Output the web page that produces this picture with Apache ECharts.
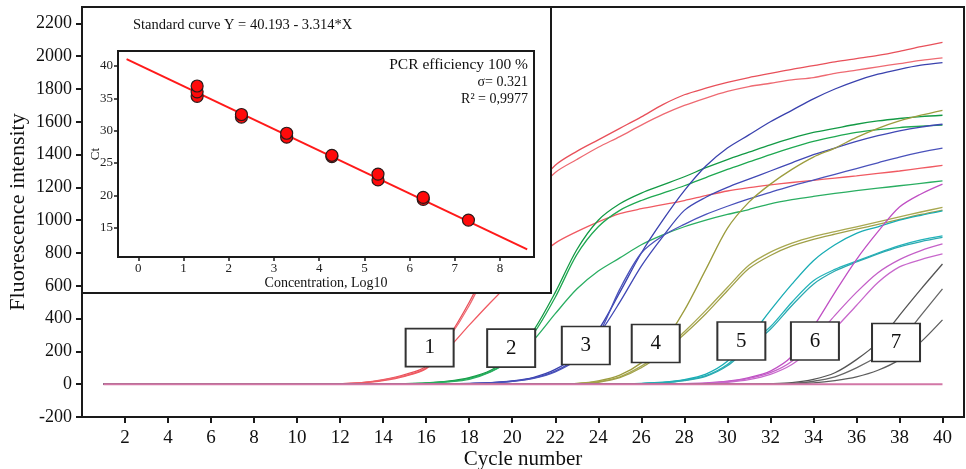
<!DOCTYPE html>
<html><head><meta charset="utf-8">
<script src="https://cdn.jsdelivr.net/npm/echarts@6/dist/echarts.min.js"></script>
<style>html,body{margin:0;padding:0;background:#fff}#c{width:966px;height:469px}</style>
</head><body><div id="c"></div>
<script>
// ---------- data ----------
const cycles = [1,2,3,4,5,6,7,8,9,10,11,12,13,14,15,16,17,18,19,20,21,22,23,24,25,26,27,28,29,30,31,32,33,34,35,36,37,38,39,40];
const xTicks = [2,4,6,8,10,12,14,16,18,20,22,24,26,28,30,32,34,36,38,40];
const yTicks = [-200,0,200,400,600,800,1000,1200,1400,1600,1800,2000,2200];

// group 1 (red)
const red1 = [0,0,0,0,0,0,0,0,0,0,0,3,10,28,58,110,280,500,760,1000,1180,1335,1420,1490,1560,1630,1705,1765,1805,1840,1870,1895,1920,1942,1965,1985,2005,2030,2058,2084];
const red2 = [0,0,0,0,0,0,0,0,0,0,0,3,9,25,52,100,270,480,740,970,1150,1291,1370,1445,1510,1580,1645,1700,1745,1785,1815,1835,1855,1870,1895,1915,1935,1955,1975,1990];
const red3 = [0,0,0,0,0,0,0,0,0,0,0,2,8,22,48,95,215,360,500,630,750,860,930,990,1040,1070,1095,1120,1150,1178,1198,1215,1230,1243,1257,1270,1285,1300,1317,1334];
// group 2 (green)
const green1 = [0,0,0,0,0,0,0,0,0,0,0,0,0,0,3,8,18,40,85,170,330,560,820,1000,1100,1165,1215,1265,1320,1370,1415,1460,1500,1535,1560,1585,1605,1620,1632,1640];
const green2 = [0,0,0,0,0,0,0,0,0,0,0,0,0,0,3,7,16,36,78,160,310,530,790,960,1060,1120,1165,1210,1260,1310,1355,1400,1442,1480,1510,1535,1552,1565,1573,1580];
const green3 = [0,0,0,0,0,0,0,0,0,0,0,0,0,0,2,6,14,30,75,150,270,430,580,690,770,850,910,960,1000,1035,1065,1100,1125,1145,1163,1180,1195,1210,1225,1240];
// group 3 (blue)
const blue1 = [0,0,0,0,0,0,0,0,0,0,0,0,0,0,0,0,2,5,10,20,42,90,180,330,560,800,1000,1180,1330,1440,1520,1600,1670,1740,1800,1850,1890,1920,1945,1961];
const blue2 = [0,0,0,0,0,0,0,0,0,0,0,0,0,0,0,0,2,4,9,18,38,80,160,300,500,720,900,1060,1140,1200,1250,1300,1350,1400,1440,1480,1515,1545,1568,1585];
const blue3 = [0,0,0,0,0,0,0,0,0,0,0,0,0,0,0,0,1,4,8,17,35,75,150,300,580,800,905,975,1035,1085,1130,1170,1210,1245,1280,1315,1350,1385,1415,1439];
// group 4 (olive)
const olive1 = [0,0,0,0,0,0,0,0,0,0,0,0,0,0,0,0,0,0,0,0,0,2,5,20,55,130,250,450,700,950,1110,1220,1310,1385,1440,1505,1560,1605,1640,1670];
const olive2 = [0,0,0,0,0,0,0,0,0,0,0,0,0,0,0,0,0,0,0,0,0,2,4,15,45,110,200,320,450,590,725,805,860,900,930,960,990,1020,1050,1078];
const olive3 = [0,0,0,0,0,0,0,0,0,0,0,0,0,0,0,0,0,0,0,0,0,1,3,12,40,100,190,305,430,570,705,785,843,883,915,945,975,1005,1035,1062];
// group 5 (cyan)
const cyan1 = [0,0,0,0,0,0,0,0,0,0,0,0,0,0,0,0,0,0,0,0,0,0,0,0,2,5,12,28,62,140,280,450,610,753,850,920,960,1000,1030,1057];
const cyan2 = [0,0,0,0,0,0,0,0,0,0,0,0,0,0,0,0,0,0,0,0,0,0,0,0,2,4,10,24,52,120,240,350,500,631,700,750,800,845,880,905];
const cyan3 = [0,0,0,0,0,0,0,0,0,0,0,0,0,0,0,0,0,0,0,0,0,0,0,0,1,4,9,22,48,112,225,335,480,610,690,745,795,838,870,895];
// group 6 (magenta)
const mag1 = [0,0,0,0,0,0,0,0,0,0,0,0,0,0,0,0,0,0,0,0,0,0,0,0,0,0,0,3,8,18,40,80,170,350,560,760,930,1080,1160,1220];
const mag2 = [0,0,0,0,0,0,0,0,0,0,0,0,0,0,0,0,0,0,0,0,0,0,0,0,0,0,0,2,5,15,35,70,140,270,420,560,680,760,815,855];
const mag3 = [0,0,0,0,0,0,0,0,0,0,0,0,0,0,0,0,0,0,0,0,0,0,0,0,0,0,0,2,4,12,28,60,120,220,340,480,620,715,760,794];
// group 7 (grey)
const gray1 = [0,0,0,0,0,0,0,0,0,0,0,0,0,0,0,0,0,0,0,0,0,0,0,0,0,0,0,0,0,0,0,3,10,30,70,150,255,420,580,733];
const gray2 = [0,0,0,0,0,0,0,0,0,0,0,0,0,0,0,0,0,0,0,0,0,0,0,0,0,0,0,0,0,0,0,2,5,18,45,100,170,260,420,581];
const gray3 = [0,0,0,0,0,0,0,0,0,0,0,0,0,0,0,0,0,0,0,0,0,0,0,0,0,0,0,0,0,0,0,1,3,8,22,45,85,150,258,392];
// no-template control
const ntc = [0,0,0,0,0,0,0,0,0,0,0,0,0,0,0,0,0,0,0,0,0,0,0,0,0,0,0,0,0,0,0,0,0,0,0,0,0,0,0,0];

// dilution labels
const boxNames = ['1','2','3','4','5','6','7'];
const boxCycles = [16.16,19.95,23.42,26.67,30.65,34.07,37.84];
const boxLevels = [223,220,236,248,263,263,254];

// standard curve (inset)
const stdX = [1.3,1.3,1.3,2.28,2.28,3.28,3.28,4.28,4.28,5.3,5.3,6.3,6.3,7.3];
const stdCt = [35.3,36.0,36.9,32.1,32.5,29.0,29.6,26.0,26.2,22.4,23.3,19.4,19.7,16.2];
const fitX = [-0.26,8.6];
const fitCt = [41.05,11.69];
const insetXTicks = [0,1,2,3,4,5,6,7,8];
const insetYTicks = [15,20,25,30,35,40];

// ---------- chart ----------
const curves = [
  [red1,'#e8505a'],[red2,'#ee6a72'],[red3,'#f05a62'],
  [green1,'#139a45'],[green2,'#1ea851'],[green3,'#2aae62'],
  [blue1,'#3a42ae'],[blue2,'#4048b5'],[blue3,'#4a52bb'],
  [olive1,'#9c9c3e'],[olive2,'#a8a850'],[olive3,'#a0a048'],
  [cyan1,'#19acb4'],[cyan2,'#22b3ba'],[cyan3,'#2aa9b0'],
  [mag1,'#c050c4'],[mag2,'#c460c8'],[mag3,'#c868cc'],
  [gray1,'#555555'],[gray2,'#666666'],[gray3,'#5d5d5d']
];
const FONT = '"Liberation Serif", "DejaVu Serif", serif';
const plain = v => String(v);
const series = curves.map(([arr,col]) => ({
  type:'line', xAxisIndex:0, yAxisIndex:0, showSymbol:false, smooth:0.3,
  data: cycles.map((c,i)=>[c,arr[i]]),
  lineStyle:{color:col,width:1.3}, itemStyle:{color:col}, z:2, silent:true
}));
series.push({type:'line', xAxisIndex:0, yAxisIndex:0, showSymbol:false,
  data: cycles.map((c,i)=>[c,ntc[i]]), lineStyle:{color:'#d277a6',width:2}, z:3});
series.push({type:'scatter', xAxisIndex:0, yAxisIndex:0, symbol:'rect', symbolSize:[48,38], z:6,
  data: boxNames.map((n,i)=>({name:n, value:[boxCycles[i],boxLevels[i]]})),
  itemStyle:{color:'#fff',borderColor:'#333',borderWidth:1.8,opacity:1},
  label:{show:true,position:'inside',formatter:'{b}',fontFamily:FONT,fontSize:21,color:'#111'}});
series.push({type:'line', xAxisIndex:1, yAxisIndex:1, showSymbol:false, zlevel:1, z:10,
  data: fitX.map((x,i)=>[x,fitCt[i]]), lineStyle:{color:'#ff1a1a',width:2}});
series.push({type:'scatter', xAxisIndex:1, yAxisIndex:1, zlevel:1, z:11, symbolSize:12,
  data: stdX.map((x,i)=>[x,stdCt[i]]),
  itemStyle:{color:'#ff0a0a',borderColor:'#2a1a1a',borderWidth:1.2,opacity:1}});

const axisCol = '#1a1a1a';
const option = {
  animation:false,
  textStyle:{fontFamily:FONT},
  grid:[
    {left:82, top:7, width:882, height:410, show:true, borderColor:axisCol, borderWidth:2, containLabel:false, outerBoundsMode:'none'},
    {left:118, top:51, width:416, height:206, show:true, borderColor:axisCol, borderWidth:2, backgroundColor:'#fff', zlevel:1, z:5, containLabel:false, outerBoundsMode:'none'}
  ],
  xAxis:[
    {type:'value', gridIndex:0, min:0, max:41,
     axisLine:{onZero:false, lineStyle:{color:axisCol,width:2}},
     axisTick:{length:6, customValues:xTicks, lineStyle:{color:axisCol,width:2}},
     axisLabel:{customValues:xTicks, formatter:plain, fontFamily:FONT, fontSize:19, color:'#111', margin:12},
     splitLine:{show:false},
     name:'Cycle number', nameLocation:'middle', nameGap:32, nameMoveOverlap:false,
     nameTextStyle:{fontFamily:FONT, fontSize:21, color:'#111'}},
    {type:'value', gridIndex:1, min:-0.45, max:8.75, zlevel:1, z:6,
     axisLine:{onZero:false, lineStyle:{color:axisCol,width:2}},
     axisTick:{length:4, customValues:insetXTicks, lineStyle:{color:axisCol,width:1.5}},
     axisLabel:{customValues:insetXTicks, formatter:plain, fontFamily:FONT, fontSize:13, color:'#222', margin:5},
     splitLine:{show:false},
     name:'Concentration, Log10', nameLocation:'middle', nameGap:19, nameMoveOverlap:false,
     nameTextStyle:{fontFamily:FONT, fontSize:14, color:'#111'}}
  ],
  yAxis:[
    {type:'value', gridIndex:0, min:-200, max:2300,
     axisLine:{onZero:false, lineStyle:{color:axisCol,width:2}},
     axisTick:{length:6, customValues:yTicks, lineStyle:{color:axisCol,width:2}},
     axisLabel:{customValues:yTicks, formatter:plain, fontFamily:FONT, fontSize:18, color:'#111', margin:10},
     splitLine:{show:false},
     name:'Fluorescence intensity', nameLocation:'middle', nameGap:53, nameRotate:90, nameMoveOverlap:false,
     nameTextStyle:{fontFamily:FONT, fontSize:22, color:'#111'}},
    {type:'value', gridIndex:1, min:10.5, max:42.3, zlevel:1, z:6,
     axisLine:{onZero:false, lineStyle:{color:axisCol,width:2}},
     axisTick:{length:4, customValues:insetYTicks, lineStyle:{color:axisCol,width:1.5}},
     axisLabel:{customValues:insetYTicks, formatter:plain, fontFamily:FONT, fontSize:13, color:'#222', margin:5},
     splitLine:{show:false},
     name:'Ct', nameLocation:'middle', nameGap:16, nameRotate:90, nameMoveOverlap:false,
     nameTextStyle:{fontFamily:FONT, fontSize:13, color:'#111'}}
  ],
  graphic:[
    {type:'rect', zlevel:1, z:0, shape:{x:82,y:7,width:469,height:286},
     style:{fill:'#fff', stroke:axisCol, lineWidth:2}},
    {type:'text', zlevel:1, z:20, x:133, y:25,
     style:{text:'Standard curve Y = 40.193 - 3.314*X', font:'14.5px '+FONT, fill:'#111', align:'left', verticalAlign:'middle'}},
    {type:'text', zlevel:1, z:20, x:528, y:65,
     style:{text:'PCR efficiency 100 %', font:'15.5px '+FONT, fill:'#111', align:'right', verticalAlign:'middle'}},
    {type:'text', zlevel:1, z:20, x:528, y:82,
     style:{text:'σ= 0.321', font:'14px '+FONT, fill:'#111', align:'right', verticalAlign:'middle'}},
    {type:'text', zlevel:1, z:20, x:528, y:99,
     style:{text:'R² = 0,9977', font:'14px '+FONT, fill:'#111', align:'right', verticalAlign:'middle'}}
  ],
  series: series
};
const chart = echarts.init(document.getElementById('c'), null, {renderer:'canvas'});
chart.setOption(option);
</script>
</body></html>
